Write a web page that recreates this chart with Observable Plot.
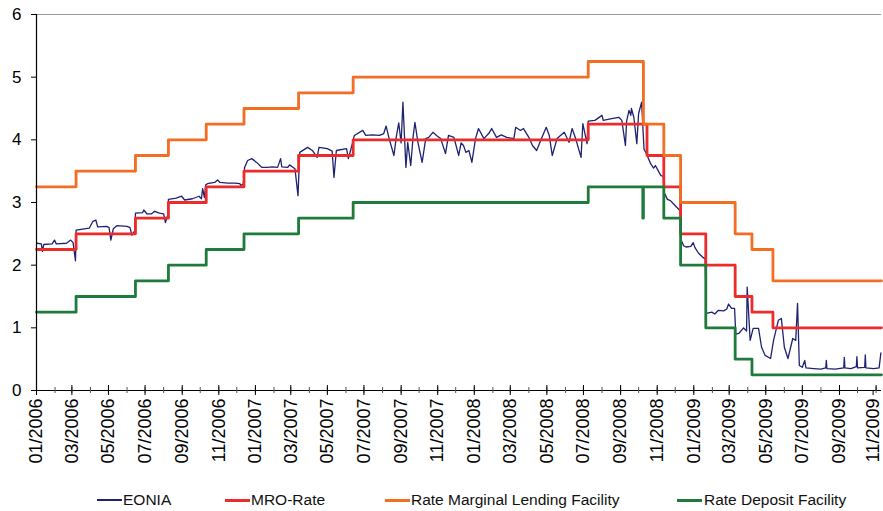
<!DOCTYPE html>
<html><head><meta charset="utf-8">
<script src="https://cdn.jsdelivr.net/npm/d3@7"></script>
<script src="https://cdn.jsdelivr.net/npm/@observablehq/plot@0.6"></script>
<style>
body{margin:0;background:#fff;font-family:"Liberation Sans",Arial,sans-serif;}
#chart{width:883px;height:488px;}
#chart svg{overflow:visible;}
.legend{position:relative;height:23px;width:883px;font-size:15.5px;color:#111;}
.item{position:absolute;top:0;line-height:23px;white-space:nowrap;}
.swatch{position:absolute;height:3px;width:25px;}
</style></head><body>
<div id="chart"></div>
<div class="legend" id="legend"></div>
<script>
const seriesNames = ["EONIA", "MRO-Rate", "Rate Marginal Lending Facility", "Rate Deposit Facility"];
const seriesColors = ["#1e2273", "#ee2b2b", "#f36d23", "#1e7b3b"];
const yTicks = [0, 1, 2, 3, 4, 5, 6];
const xTickLabels = ["01/2006","03/2006","05/2006","07/2006","09/2006","11/2006","01/2007","03/2007","05/2007","07/2007","09/2007","11/2007","01/2008","03/2008","05/2008","07/2008","09/2008","11/2008","01/2009","03/2009","05/2009","07/2009","09/2009","11/2009"];
const xStart = "2006-01-01";
const xEnd = "2009-11-10";

const mroRate = [["2006-01-01",2.25],["2006-03-08",2.50],["2006-06-15",2.75],["2006-08-09",3.00],["2006-10-11",3.25],["2006-12-13",3.50],["2007-03-14",3.75],["2007-06-13",4.00],["2008-07-09",4.25],["2008-10-15",3.75],["2008-11-12",3.25],["2008-12-10",2.50],["2009-01-21",2.00],["2009-03-11",1.50],["2009-04-08",1.25],["2009-05-13",1.00],["2009-11-10",1.00]];
const marginalLending = [["2006-01-01",3.25],["2006-03-08",3.50],["2006-06-15",3.75],["2006-08-09",4.00],["2006-10-11",4.25],["2006-12-13",4.50],["2007-03-14",4.75],["2007-06-13",5.00],["2008-07-09",5.25],["2008-10-09",4.25],["2008-11-12",3.75],["2008-12-10",3.00],["2009-01-21",3.00],["2009-03-11",2.50],["2009-04-08",2.25],["2009-05-13",1.75],["2009-11-10",1.75]];
const depositFacility = [["2006-01-01",1.25],["2006-03-08",1.50],["2006-06-15",1.75],["2006-08-09",2.00],["2006-10-11",2.25],["2006-12-13",2.50],["2007-03-14",2.75],["2007-06-13",3.00],["2008-07-09",3.25],["2008-10-08",2.75],["2008-10-09",3.25],["2008-11-12",2.75],["2008-12-10",2.00],["2009-01-21",1.00],["2009-03-11",0.50],["2009-04-08",0.25],["2009-11-10",0.25]];

const eonia = [
["2006-01-02",2.35],["2006-01-09",2.34],["2006-01-11",2.22],["2006-01-13",2.33],["2006-01-27",2.34],["2006-01-31",2.40],["2006-02-03",2.34],["2006-02-20",2.35],["2006-02-27",2.40],["2006-03-03",2.36],["2006-03-07",2.07],["2006-03-08",2.56],
["2006-03-30",2.59],["2006-04-05",2.70],["2006-04-10",2.72],["2006-04-13",2.61],["2006-04-28",2.62],["2006-05-02",2.60],["2006-05-05",2.40],["2006-05-09",2.58],["2006-05-15",2.63],["2006-06-01",2.62],["2006-06-06",2.60],["2006-06-09",2.48],["2006-06-14",2.55],
["2006-06-15",2.83],["2006-06-27",2.84],["2006-06-29",2.88],["2006-07-04",2.82],["2006-07-12",2.82],["2006-07-17",2.86],["2006-07-25",2.83],["2006-08-01",2.82],["2006-08-04",2.68],["2006-08-08",2.80],
["2006-08-09",3.05],["2006-08-22",3.07],["2006-08-31",3.10],["2006-09-05",3.04],["2006-09-18",3.06],["2006-09-29",3.10],["2006-10-03",3.06],["2006-10-05",3.22],["2006-10-08",3.08],["2006-10-10",3.28],
["2006-10-13",3.30],["2006-10-25",3.32],["2006-10-30",3.36],["2006-11-03",3.32],["2006-11-16",3.31],["2006-11-28",3.31],["2006-12-06",3.30],["2006-12-08",3.27],["2006-12-12",3.30],
["2006-12-14",3.56],["2006-12-19",3.67],["2006-12-26",3.70],["2007-01-03",3.64],["2007-01-12",3.56],["2007-01-20",3.56],["2007-01-30",3.57],["2007-02-07",3.56],["2007-02-12",3.70],["2007-02-14",3.57],["2007-02-24",3.56],["2007-02-27",3.60],["2007-03-08",3.54],["2007-03-13",3.11],
["2007-03-16",3.80],["2007-03-29",3.88],["2007-04-06",3.83],["2007-04-14",3.72],["2007-04-17",3.88],["2007-05-01",3.86],["2007-05-09",3.82],["2007-05-12",3.40],["2007-05-16",3.83],["2007-06-02",3.86],["2007-06-05",3.70],["2007-06-12",3.95],
["2007-06-15",4.07],["2007-06-29",4.15],["2007-07-04",4.07],["2007-07-15",4.08],["2007-07-27",4.07],["2007-08-03",4.10],["2007-08-07",4.22],["2007-08-12",4.02],["2007-08-20",3.75],["2007-08-24",4.05],["2007-08-28",4.27],["2007-09-01",3.95],["2007-09-04",4.60],["2007-09-09",3.56],["2007-09-12",3.96],["2007-09-17",3.59],["2007-09-21",4.05],["2007-09-24",4.28],["2007-09-29",3.96],["2007-10-06",3.64],["2007-10-12",4.02],["2007-10-17",4.04],["2007-10-24",4.12],["2007-10-30",4.07],["2007-11-06",4.02],["2007-11-14",3.78],["2007-11-19",4.07],["2007-11-28",4.04],["2007-12-06",3.75],["2007-12-10",3.95],["2007-12-14",3.91],["2007-12-18",3.80],["2007-12-23",3.83],["2007-12-28",3.64],
["2008-01-03",4.02],["2008-01-08",4.18],["2008-01-17",4.02],["2008-01-25",4.10],["2008-01-30",4.18],["2008-02-07",4.04],["2008-02-15",4.08],["2008-02-24",4.04],["2008-03-07",4.02],["2008-03-10",4.20],["2008-03-18",4.15],["2008-03-23",4.18],["2008-04-01",4.04],["2008-04-07",3.91],["2008-04-14",3.83],["2008-04-22",4.02],["2008-04-30",4.20],["2008-05-05",4.07],["2008-05-10",3.75],["2008-05-18",4.02],["2008-05-30",4.12],["2008-06-07",3.96],["2008-06-12",4.18],["2008-06-18",4.02],["2008-06-27",3.72],["2008-06-30",4.26],["2008-07-07",3.94],
["2008-07-09",4.30],["2008-07-20",4.31],["2008-08-01",4.39],["2008-08-03",4.31],["2008-08-17",4.34],["2008-08-29",4.36],["2008-09-03",4.31],["2008-09-09",3.91],["2008-09-11",4.30],["2008-09-15",4.47],["2008-09-18",4.39],["2008-09-19",4.50],["2008-09-23",4.36],["2008-09-28",3.94],["2008-10-01",4.42],["2008-10-06",4.60],
["2008-10-10",3.85],["2008-10-13",3.80],["2008-10-21",3.62],["2008-10-26",3.55],["2008-10-29",3.59],["2008-11-03",3.50],["2008-11-07",3.43],["2008-11-11",3.42],
["2008-11-13",3.15],["2008-11-18",3.05],["2008-11-23",3.03],["2008-11-28",2.98],["2008-12-04",2.92],["2008-12-09",2.87],
["2008-12-11",2.40],["2008-12-15",2.31],["2008-12-19",2.29],["2008-12-27",2.30],["2008-12-31",2.36],["2009-01-03",2.28],["2009-01-09",2.19],["2009-01-17",2.12],["2009-01-20",2.10],
["2009-01-22",1.23],["2009-01-31",1.25],["2009-02-05",1.22],["2009-02-11",1.28],["2009-02-20",1.27],["2009-02-25",1.30],["2009-02-28",1.38],["2009-03-05",1.31],["2009-03-10",1.31],
["2009-03-12",0.90],["2009-03-17",0.91],["2009-03-25",1.00],["2009-03-30",0.95],["2009-03-31",1.65],["2009-04-05",0.80],["2009-04-10",0.99],["2009-04-19",0.99],["2009-04-24",0.69],["2009-04-30",0.56],["2009-05-09",0.51],["2009-05-14",0.80],["2009-05-22",1.12],["2009-05-27",1.15],["2009-06-01",0.69],["2009-06-07",0.51],["2009-06-15",0.83],["2009-06-20",0.80],["2009-06-23",1.39],["2009-06-26",0.40],
["2009-07-01",0.37],["2009-07-05",0.48],["2009-07-07",0.36],["2009-07-20",0.35],["2009-08-01",0.34],["2009-08-09",0.36],["2009-08-10",0.48],["2009-08-11",0.35],["2009-08-25",0.34],["2009-09-08",0.36],["2009-09-09",0.53],["2009-09-10",0.36],["2009-09-20",0.35],["2009-09-29",0.38],["2009-09-30",0.54],["2009-10-01",0.36],["2009-10-13",0.37],["2009-10-14",0.57],["2009-10-15",0.36],["2009-10-28",0.35],["2009-11-06",0.36],["2009-11-09",0.60]
];

const parse = d3.utcParse("%Y-%m-%d");
const parseTick = d3.utcParse("%m/%Y");
const toRows = arr => arr.map(([d, v]) => ({date: parse(d), value: v}));
const domain = [parse(xStart), parse(xEnd)];
const majorTicks = xTickLabels.map(parseTick);
const minorTicks = d3.utcMonth.range(domain[0], domain[1]);
const pxPerUnit = (390 - 14) / 6;
const fmt = d3.utcFormat("%m/%Y");

const chart = Plot.plot({
  width: 883, height: 488,
  marginLeft: 36, marginRight: 2, marginTop: 14, marginBottom: 98,
  style: {fontFamily: "'Liberation Sans', Arial, sans-serif", fontSize: "17px", color: "#000", background: "#fff", overflow: "visible"},
  x: {type: "utc", domain},
  y: {domain: [0, 6]},
  marks: [
    Plot.ruleY([6], {stroke: "#9a9a9a", strokeWidth: 1.2}),
    Plot.line(toRows(eonia), {x: "date", y: "value", stroke: seriesColors[0], strokeWidth: 1.3}),
    Plot.line(toRows(mroRate), {x: "date", y: "value", curve: "step-after", stroke: seriesColors[1], strokeWidth: 2.8}),
    Plot.line(toRows(marginalLending), {x: "date", y: "value", curve: "step-after", stroke: seriesColors[2], strokeWidth: 2.8}),
    Plot.line(toRows(depositFacility), {x: "date", y: "value", curve: "step-after", stroke: seriesColors[3], strokeWidth: 2.8}),
    Plot.ruleX([domain[0]], {y1: 0, y2: 6, stroke: "#000", strokeWidth: 1.2}),
    Plot.ruleY([0], {stroke: "#000", strokeWidth: 1.2}),
    Plot.ruleX(minorTicks, {y1: -3 / pxPerUnit, y2: 3 / pxPerUnit, stroke: "#555", strokeWidth: 1}),
    Plot.ruleX(majorTicks, {y1: 0, y2: 5 / pxPerUnit, stroke: "#000", strokeWidth: 1}),
    Plot.axisY({ticks: yTicks, tickSize: 5, tickPadding: 10, label: null, fontSize: 17, tickFormat: d => String(d)}),
    Plot.axisX({ticks: majorTicks.slice(0, -1), tickSize: 5, tickPadding: 3, tickRotate: -90, label: null, fontSize: 18, tickFormat: fmt}),
    Plot.axisX({ticks: majorTicks.slice(-1), tickSize: 5, tickPadding: 3, tickRotate: -90, label: null, fontSize: 18, tickFormat: fmt, dx: -3})
  ]
});
document.getElementById("chart").appendChild(chart);

const legendPos = [{line: 97, text: 123, w: 1.5}, {line: 225, text: 251, w: 3}, {line: 385, text: 411, w: 3}, {line: 677, text: 704, w: 3}];
const legend = document.getElementById("legend");
seriesNames.forEach((name, i) => {
  const sw = document.createElement("div");
  sw.className = "swatch";
  sw.style.left = legendPos[i].line + "px";
  sw.style.height = legendPos[i].w + "px";
  sw.style.top = (12 - legendPos[i].w / 2) + "px";
  sw.style.background = seriesColors[i];
  legend.appendChild(sw);
  const t = document.createElement("div");
  t.className = "item";
  t.style.left = legendPos[i].text + "px";
  t.textContent = name;
  legend.appendChild(t);
});
</script>
</body></html>
